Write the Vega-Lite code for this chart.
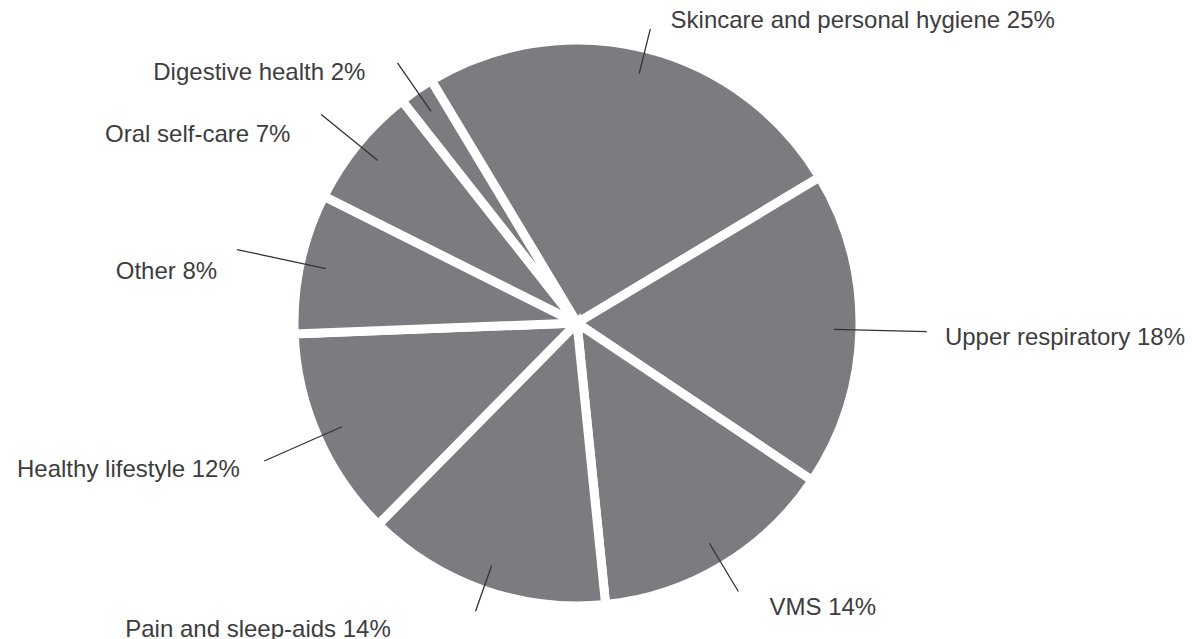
{
  "$schema": "https://vega.github.io/schema/vega-lite/v6.json",
  "width": 1154,
  "height": 632,
  "autosize": {"type": "none"},
  "padding": {"left": 0, "top": 7, "right": 38, "bottom": 0},
  "background": "white",
  "view": {"stroke": null},
  "data": {
    "values": [
      {"category": "Skincare and personal hygiene", "pct": 25, "label": "Skincare and personal hygiene 25%"},
      {"category": "Upper respiratory", "pct": 18, "label": "Upper respiratory 18%"},
      {"category": "VMS", "pct": 14, "label": "VMS 14%"},
      {"category": "Pain and sleep-aids", "pct": 14, "label": "Pain and sleep-aids 14%"},
      {"category": "Healthy lifestyle", "pct": 12, "label": "Healthy lifestyle 12%"},
      {"category": "Other", "pct": 8, "label": "Other 8%"},
      {"category": "Oral self-care", "pct": 7, "label": "Oral self-care 7%"},
      {"category": "Digestive health", "pct": 2, "label": "Digestive health 2%"}
    ]
  },
  "encoding": {
    "theta": {"field": "pct", "type": "quantitative", "stack": true, "scale": {"range": [-0.541, 5.742]}}
  },
  "layer": [
    {
      "mark": {"type": "arc", "outerRadius": 283, "fill": "#7b7c80", "stroke": "white", "strokeWidth": 9}
    },
    {
      "mark": {
        "type": "arc",
        "outerRadius": {"expr": "300 + 50*pow(sin(-0.541 + PI*(datum.pct_start+datum.pct_end)/100), 2)"},
        "innerRadius": 257,
        "padAngle": 3,
        "filled": false,
        "stroke": "#333333",
        "strokeWidth": 1.3
      }
    },
    {
      "mark": {
        "type": "text",
        "radius": 322,
        "font": "Liberation Sans",
        "fontSize": 24,
        "color": "#3d3d3d",
        "baseline": "middle",
        "text": {"expr": "datum.label"},
        "align": {"expr": "sin(-0.541 + PI*(datum.pct_start+datum.pct_end)/100) > 0 ? 'left' : 'right'"},
        "dx": {"expr": "(sin(-0.541 + PI*(datum.pct_start+datum.pct_end)/100) > 0 ? 6 : -6) + 40*sin(-0.541 + PI*(datum.pct_start+datum.pct_end)/100) + (cos(-0.541 + PI*(datum.pct_start+datum.pct_end)/100) < -0.9 ? -60 : 0)"},
        "dy": {"expr": "cos(-0.541 + PI*(datum.pct_start+datum.pct_end)/100) < -0.9 ? 3 : 12 - 5*sin(-0.541 + PI*(datum.pct_start+datum.pct_end)/100)"}
      }
    }
  ]
}
